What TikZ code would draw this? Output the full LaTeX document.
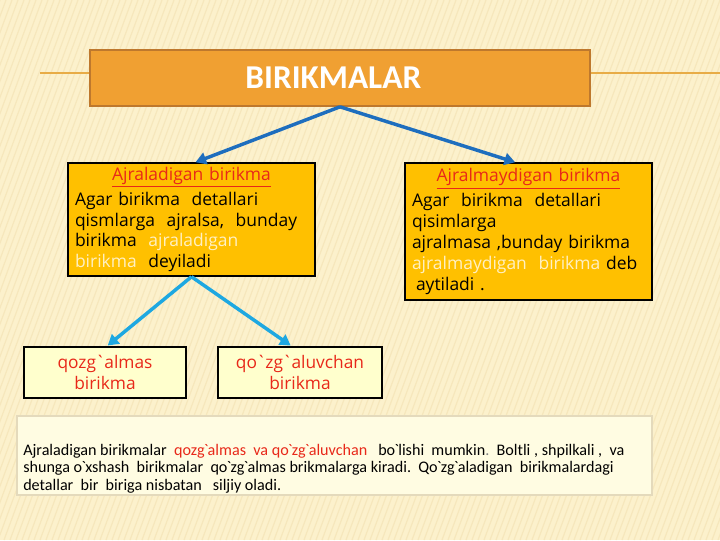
\documentclass[tikz,border=0pt]{standalone}
\usepackage{fontspec}
\setmainfont{Open Sans}
\newfontfamily\calfont{Carlito}
\usetikzlibrary{arrows.meta}
\definecolor{bgcream}{RGB}{252,241,204}
\definecolor{bgstripe}{RGB}{246,231,188}
\definecolor{rulecol}{RGB}{232,172,70}
\definecolor{headfill}{RGB}{240,160,50}
\definecolor{headedge}{RGB}{190,120,45}
\definecolor{goldfill}{RGB}{255,192,0}
\definecolor{titlered}{RGB}{232,40,25}
\definecolor{paletext}{RGB}{255,240,195}
\definecolor{darkblue}{RGB}{30,110,190}
\definecolor{lightblue}{RGB}{30,168,225}
\definecolor{kindfill}{RGB}{255,255,205}
\definecolor{notefill}{RGB}{255,252,226}
\definecolor{noteedge}{RGB}{228,218,188}
\newcommand{\bq}{\kern-0.6pt\textasciigrave\kern-0.6pt}

\begin{document}
\begin{tikzpicture}[x=0.75pt,y=-0.75pt,
	headbox/.style={draw=headedge,line width=1.2pt,fill=headfill,minimum width=375pt,minimum height=42pt,text=white,font=\calfont\bfseries\fontsize{25}{29}\selectfont},
	typebox/.style={draw=black,line width=1.1pt,fill=goldfill,minimum width=185.25pt,inner xsep=5.25pt,inner ysep=1pt,text width=174.75pt,font=\fontsize{13.1}{15.7}\selectfont},
	kindbox/.style={draw=black,line width=2.2pt,fill=kindfill,minimum height=38.25pt,align=center,text=titlered,font=\fontsize{13}{15.6}\selectfont},
	notebox/.style={draw=noteedge,line width=0.8pt,fill=notefill,minimum width=476.25pt,minimum height=59.25pt},
	darrow/.style={draw=darkblue,line width=2.6pt,-{Triangle[length=8pt,width=9pt]}},
	larrow/.style={draw=lightblue,line width=2.6pt,-{Triangle[length=8pt,width=9pt]}}]
	\useasboundingbox (0,0) rectangle (720,540);
	\fill[bgcream] (0,0) rectangle (720,540);
	\begin{scope}
		\clip (0,0) rectangle (720,540);
		\foreach \x in {0,6,...,920}
		{\draw[bgstripe,line width=0.9pt] (\x-200,540) -- (\x,0);}
	\end{scope}
	\draw[rulecol,line width=1.2pt] (40,73) -- (720,73);
	
	\node[headbox] (head) at (340,78) {BIRIKMALAR\hspace*{10pt}};
	
	\node[typebox,minimum height=84.75pt] (ajral) at (191.5,219.5) {%
		\vspace*{3pt}{\centering\textcolor{titlered}{\underline{Ajraladigan birikma}}\par}
		\raggedright Agar birikma\ \ detallari\\
		qismlarga\ \ ajralsa,\ \ bunday\\
		birikma\ \ \textcolor{paletext}{ajraladigan}\\
		\textcolor{paletext}{birikma}\ \ deyiladi};
	\node[typebox,minimum height=102.75pt] (ajralmas) at (528.5,231.5) {%
		\vspace*{3pt}{\centering\textcolor{titlered}{\underline{Ajralmaydigan birikma}}\par}
		\raggedright Agar\ \ birikma\ \ detallari\\
		qisimlarga\\
		ajralmasa ,bunday birikma\\
		\textcolor{paletext}{ajralmaydigan\ \ birikma} deb\\
		\hspace*{3pt}aytiladi .};
	
	\node[kindbox,minimum width=121.5pt] (qozgalmas) at (105,372.5) {qozg\bq almas\\birikma};
	\node[kindbox,minimum width=123pt] (qozgaluvchan) at (300,372.5) {qo\bq zg\bq aluvchan\\birikma};
	
	\node[notebox] (note) at (334.5,455.5) {};
	\node[anchor=west,align=left,inner sep=0pt,font=\calfont\fontsize{12.1}{13.2}\selectfont] (notetext) at (23,468.5) {%
		Ajraladigan birikmalar\ \ \textcolor{titlered}{qozg\bq almas\ \ va qo\bq zg\bq aluvchan}\ \ \ bo\bq lishi\ \ mumkin{\color{gray}.}\ \ Boltli , shpilkali ,\ \ va\\
		shunga o\bq xshash\ \ birikmalar\ \ qo\bq zg\bq almas brikmalarga kiradi.\ \ Qo\bq zg\bq aladigan\ \ birikmalardagi\\
		detallar\ \ bir\ \ biriga nisbatan\ \ \ siljiy oladi.};
	
	\draw[darrow] (head.south) -- ([xshift=3pt]ajral.north);
	\draw[darrow] (head.south) -- ([xshift=-10pt]ajralmas.north);
	\draw[larrow] (ajral.south) -- ([xshift=2pt]qozgalmas.north);
	\draw[larrow] (ajral.south) -- ([xshift=-7pt]qozgaluvchan.north);
\end{tikzpicture}
\end{document}
